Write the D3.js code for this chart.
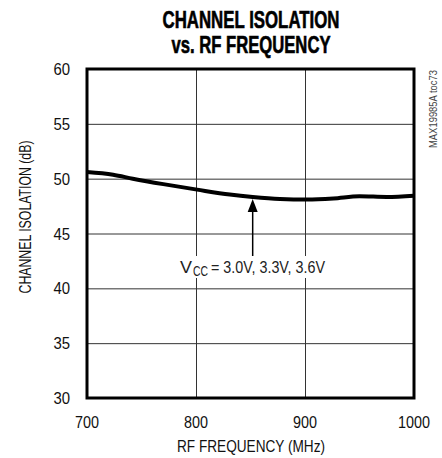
<!DOCTYPE html>
<html><head><meta charset="utf-8">
<script src="https://cdn.jsdelivr.net/npm/d3@7/dist/d3.min.js"></script>
<style>
body{margin:0;background:#fff;}
text{font-family:"Liberation Sans",Arial,sans-serif;}
</style></head><body>
<svg id="c" width="442" height="458"></svg>
<script>
const freq = [700, 724, 742, 770, 801, 831, 852, 877, 902, 926, 950, 975, 1000];
const isolation = [50.6, 50.36, 50.0, 49.5, 49.0, 48.55, 48.33, 48.15, 48.1, 48.2, 48.4, 48.33, 48.45];
const xTicks = [700, 800, 900, 1000];
const yTicks = [30, 35, 40, 45, 50, 55, 60];
const titleLines = ["CHANNEL ISOLATION", "vs. RF FREQUENCY"];

const svg = d3.select("#c");
const L = 87, R = 414, T = 69, B = 398;
const x = d3.scaleLinear().domain([700, 1000]).range([L, R]);
const y = d3.scaleLinear().domain([30, 60]).range([B, T]);

// grid
svg.append("g").call(d3.axisBottom(x).tickValues(xTicks).tickSize(-(B - T)).tickFormat(""))
  .attr("transform", `translate(0,${B})`)
  .call(g => g.select(".domain").remove())
  .call(g => g.selectAll("line").attr("stroke", "#333").attr("stroke-width", 1));
svg.append("g").call(d3.axisLeft(y).tickValues(yTicks).tickSize(-(R - L)).tickFormat(""))
  .attr("transform", `translate(${L},0)`)
  .call(g => g.select(".domain").remove())
  .call(g => g.selectAll("line").attr("stroke", "#333").attr("stroke-width", 1));

// curve
svg.append("path").datum(freq.map((f, i) => [f, isolation[i]]))
  .attr("fill", "none").attr("stroke", "#000").attr("stroke-width", 4)
  .attr("d", d3.line().x(d => x(d[0])).y(d => y(d[1])).curve(d3.curveMonotoneX));

// frame
svg.append("rect").attr("x", L).attr("y", T).attr("width", R - L).attr("height", B - T)
  .attr("fill", "none").attr("stroke", "#000").attr("stroke-width", 3);

// tick labels
svg.append("g").selectAll("text").data(xTicks).join("text")
  .attr("x", d => x(d)).attr("y", B + 30).attr("text-anchor", "middle")
  .attr("font-size", 17).attr("textLength", d => String(d).length * 8)
  .attr("lengthAdjust", "spacingAndGlyphs").attr("fill", "#111").text(d => d);
svg.append("g").selectAll("text").data(yTicks).join("text")
  .attr("x", L - 17).attr("y", d => y(d) + 6).attr("text-anchor", "end")
  .attr("font-size", 17).attr("textLength", d => String(d).length * 8.3)
  .attr("lengthAdjust", "spacingAndGlyphs").attr("fill", "#111").text(d => d);

// axis titles
svg.append("text").attr("x", 251).attr("y", 452).attr("text-anchor", "middle")
  .attr("font-size", 16.5).attr("textLength", 148).attr("lengthAdjust", "spacingAndGlyphs")
  .attr("fill", "#111").text("RF FREQUENCY (MHz)");
svg.append("text").attr("transform", "translate(31,217) rotate(-90)").attr("text-anchor", "middle")
  .attr("font-size", 16.5).attr("textLength", 153).attr("lengthAdjust", "spacingAndGlyphs")
  .attr("fill", "#111").text("CHANNEL ISOLATION (dB)");

// title
const tLen = [177, 159];
svg.append("g").selectAll("text").data(titleLines).join("text")
  .attr("x", 251).attr("y", (d, i) => 27.5 + i * 25.5).attr("text-anchor", "middle")
  .attr("font-size", 23).attr("font-weight", "bold")
  .attr("stroke", "#000").attr("stroke-width", 0.6)
  .attr("textLength", (d, i) => tLen[i]).attr("lengthAdjust", "spacingAndGlyphs").text(d => d);

// watermark
svg.append("text").attr("transform", "translate(437,70) rotate(-90)").attr("text-anchor", "end")
  .attr("font-size", 10.5).attr("textLength", 78).attr("lengthAdjust", "spacingAndGlyphs")
  .attr("fill", "#444").text("MAX19985A toc73");

// annotation
const ax = x(852);
svg.append("rect").attr("x", 176).attr("y", 256).attr("width", 154).attr("height", 22).attr("fill", "#fff");
svg.append("line").attr("x1", ax).attr("x2", ax).attr("y1", y(48.33) + 10).attr("y2", 256)
  .attr("stroke", "#000").attr("stroke-width", 1.5);
svg.append("path").attr("d", `M${ax},${y(48.33) + 2} L${ax - 5},${y(48.33) + 15} L${ax + 5},${y(48.33) + 15} Z`).attr("fill", "#000");
const ann = svg.append("g").attr("fill", "#222");
ann.append("text").attr("x", 180).attr("y", 273).attr("font-size", 17)
  .attr("textLength", 12).attr("lengthAdjust", "spacingAndGlyphs").text("V");
ann.append("text").attr("x", 193).attr("y", 276).attr("font-size", 14)
  .attr("textLength", 15).attr("lengthAdjust", "spacingAndGlyphs").text("CC");
ann.append("text").attr("x", 211).attr("y", 273).attr("font-size", 17)
  .attr("textLength", 114).attr("lengthAdjust", "spacingAndGlyphs").text("= 3.0V, 3.3V, 3.6V");
</script>
</body></html>
